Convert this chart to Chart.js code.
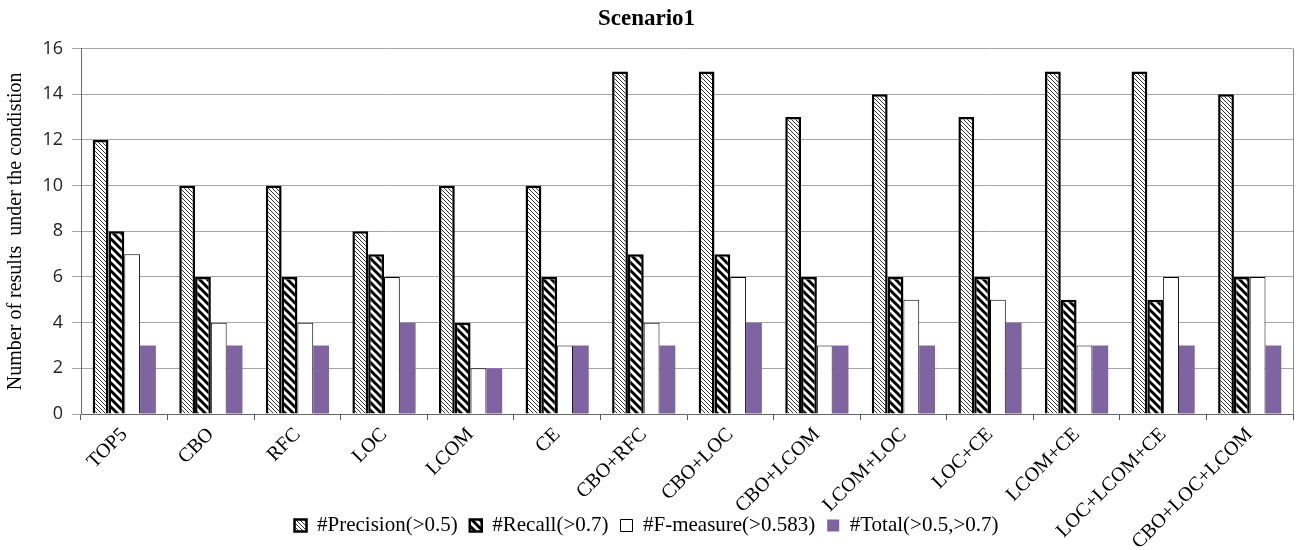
<!DOCTYPE html>
<html>
<head>
<meta charset="utf-8">
<script src="https://cdn.jsdelivr.net/npm/chart.js@4"></script>
<style>
  html, body { margin: 0; padding: 0; background: #fff; }
  #wrap { width: 1298px; height: 550px; }
</style>
</head>
<body>
<div id="wrap"><canvas id="scenarioChart" width="1298" height="550"></canvas></div>
<script>
const categories = ['TOP5', 'CBO', 'RFC', 'LOC', 'LCOM', 'CE', 'CBO+RFC', 'CBO+LOC', 'CBO+LCOM',
    'LCOM+LOC', 'LOC+CE', 'LCOM+CE', 'LOC+LCOM+CE', 'CBO+LOC+LCOM'];
const precision = [12, 10, 10, 8, 10, 10, 15, 15, 13, 14, 13, 15, 15, 14];
const recall    = [8, 6, 6, 7, 4, 6, 7, 7, 6, 6, 6, 5, 5, 6];
const fMeasure  = [7, 4, 4, 6, 2, 3, 4, 6, 3, 5, 5, 3, 6, 6];
const total     = [3, 3, 3, 4, 2, 3, 3, 4, 3, 3, 4, 3, 3, 3];
const yTicks    = [0, 2, 4, 6, 8, 10, 12, 14, 16];

const serif = '"Liberation Serif", "Times New Roman", serif';

// diagonal hatch ("\\\") as a repeating canvas pattern
const hatch = (size, width, color) => {
    const c = document.createElement('canvas');
    c.width = size;
    c.height = size;
    const g = c.getContext('2d');
    g.fillStyle = '#fff';
    g.fillRect(0, 0, size, size);
    g.strokeStyle = color;
    g.lineWidth = width;
    g.beginPath();
    [-size, 0, size].forEach(o => {
        g.moveTo(o - 1, -1);
        g.lineTo(o + size + 1, size + 1);
    });
    g.stroke();
    return g.createPattern(c, 'repeat');
};

const frame = {
    id: 'frame',
    afterLayout(chart) {
        // let the long rotated labels run down past the legend like the original
        chart.scales.x.bottom = chart.height;
    },
    afterDraw(chart) {
        const { ctx, chartArea } = chart;
        ctx.save();
        ctx.strokeStyle = '#8c8c8c';
        ctx.lineWidth = 1;
        ctx.beginPath();
        ctx.moveTo(chartArea.right + 0.5, chartArea.top);
        ctx.lineTo(chartArea.right + 0.5, chartArea.bottom);
        ctx.stroke();
        ctx.restore();
    }
};

const ctx = document.getElementById('scenarioChart');

new Chart(ctx, {
    type: 'bar',
    data: {
        labels: categories,
        datasets: [
            { label: '#Precision(>0.5)', data: precision, backgroundColor: hatch(4, 1, '#333'), borderColor: '#000', borderWidth: 2.5 },
            { label: '#Recall(>0.7)', data: recall, backgroundColor: hatch(8, 3, '#000'), borderColor: '#000', borderWidth: 2.5 },
            { label: '#F-measure(>0.583)', data: fMeasure, backgroundColor: '#fff', borderColor: '#000', borderWidth: 1 },
            { label: '#Total(>0.5,>0.7)', data: total, backgroundColor: '#8064a2', borderWidth: 0 }
        ]
    },
    options: {
        responsive: false,
        animation: false,
        layout: { padding: { top: 2, right: 5, bottom: 4, left: 0 } },
        datasets: { bar: { categoryPercentage: 0.73, barPercentage: 1.0 } },
        plugins: {
            title: {
                display: true,
                text: 'Scenario1',
                color: '#000',
                font: { family: serif, size: 23, weight: 'bold' },
                padding: { top: 3, bottom: 16 }
            },
            legend: {
                position: 'bottom',
                labels: {
                    color: '#000',
                    boxWidth: 12,
                    boxHeight: 12,
                    padding: 12,
                    font: { family: serif, size: 21 }
                }
            },
            tooltip: { enabled: false }
        },
        scales: {
            x: {
                grid: { display: true, drawOnChartArea: false, color: '#555', tickLength: 6 },
                border: { color: '#666' },
                ticks: {
                    color: '#000',
                    maxRotation: 45,
                    minRotation: 45,
                    font: { family: serif, size: 20 }
                },
                afterFit: scale => { scale.height = 89; }
            },
            y: {
                min: 0,
                max: 16,
                afterBuildTicks: scale => { scale.ticks = yTicks.map(v => ({ value: v })); },
                grid: { color: '#a6a6a6', tickLength: 9 },
                border: { color: '#666' },
                ticks: {
                    color: '#222',
                    padding: 9,
                    font: { family: '"Open Sans", sans-serif', size: 18 }
                },
                title: {
                    display: true,
                    text: 'Number of results  under the condistion',
                    color: '#000',
                    font: { family: serif, size: 20 },
                    padding: { top: 4, bottom: 2 }
                },
                afterFit: scale => { scale.width = 81; }
            }
        }
    },
    plugins: [frame]
});
</script>
</body>
</html>
